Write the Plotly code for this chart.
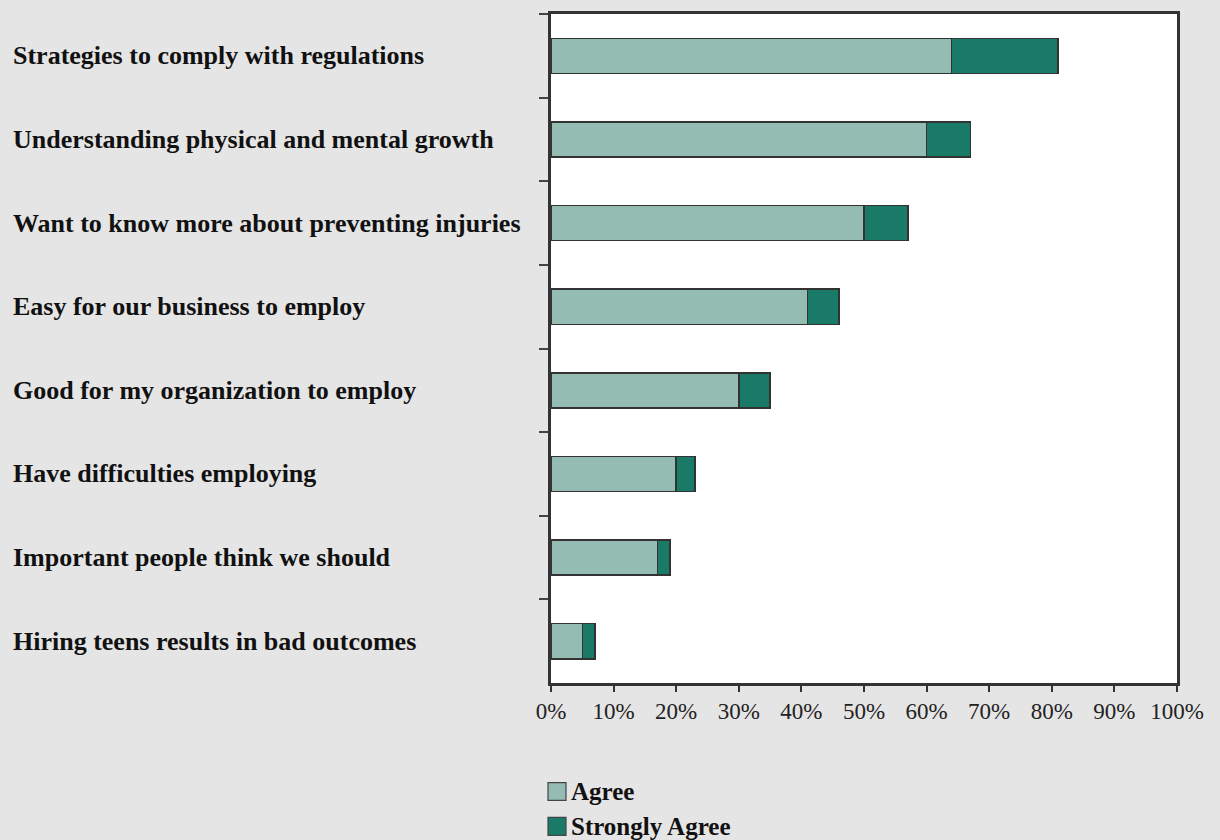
import plotly.graph_objects as go

categories = [
    "Strategies to comply with regulations",
    "Understanding physical and mental growth",
    "Want to know more about preventing injuries",
    "Easy for our business to employ",
    "Good for my organization to employ",
    "Have difficulties employing",
    "Important people think we should",
    "Hiring teens results in bad outcomes",
]
agree = [64, 60, 50, 41, 30, 20, 17, 5]
strongly_agree = [17, 7, 7, 5, 5, 3, 2, 2]
series_names = ["Agree", "Strongly Agree"]
series_colors = ["#95bcb2", "#1a7a68"]
x_ticks = [0, 10, 20, 30, 40, 50, 60, 70, 80, 90, 100]
x_tick_labels = [f"{t}%" for t in x_ticks]

FONT = "Liberation Serif, Times New Roman, serif"
W, H = 1220, 840
ML, MR, MT, MB = 551, 43, 11, 157
PW, PH = W - ML - MR, H - MT - MB

fig = go.Figure()
for vals, name, col in zip([agree, strongly_agree], series_names, series_colors):
    fig.add_trace(go.Bar(
        y=categories, x=vals, orientation="h", name=name,
        marker=dict(color=col, line=dict(color="#333333", width=1.5)),
        showlegend=False,
    ))

for cat in categories:
    fig.add_annotation(
        x=(11 - ML) / PW, xref="paper", xanchor="left",
        y=cat, yref="y", yanchor="middle",
        text=f"<b>{cat}</b>", showarrow=False,
        font=dict(family=FONT, size=26, color="#111111"),
        align="left",
    )

# manual legend (below the plot)
legend_rows = [792, 827]
for name, col, py in zip(series_names, series_colors, legend_rows):
    fig.add_shape(
        type="rect", xref="paper", yref="paper",
        x0=(548 - ML) / PW, x1=(566 - ML) / PW,
        y0=(MT + PH - (py - 9)) / PH, y1=(MT + PH - (py + 9)) / PH,
        fillcolor=col, line=dict(color="#444444", width=1.2),
    )
    fig.add_annotation(
        x=(569 - ML) / PW, xref="paper", xanchor="left",
        y=(MT + PH - py) / PH, yref="paper", yanchor="middle",
        text=f"<b>{name}</b>", showarrow=False,
        font=dict(family=FONT, size=25, color="#111111"),
    )

fig.update_layout(
    barmode="stack",
    bargap=0.58,
    width=W, height=H,
    margin=dict(l=ML, r=MR, t=MT, b=MB),
    paper_bgcolor="#e5e5e5",
    plot_bgcolor="#ffffff",
    font=dict(family=FONT, size=23, color="#222222"),
    xaxis=dict(
        range=[0, 100], tickvals=x_ticks, ticktext=x_tick_labels,
        showgrid=False, zeroline=False,
        showline=True, linecolor="#333333", linewidth=2.5, mirror=True,
        ticks="outside", ticklen=6, tickwidth=1.5, tickcolor="#333333",
        tickfont=dict(family=FONT, size=23, color="#222222"),
    ),
    yaxis=dict(
        categoryorder="array", categoryarray=categories,
        autorange="reversed",
        showticklabels=False, showgrid=False, zeroline=False,
        showline=True, linecolor="#333333", linewidth=2.5, mirror=True,
        ticks="outside", ticklen=9, tickwidth=1.5, tickcolor="#444444",
        tickson="boundaries",
    ),
    showlegend=False,
)

fig.write_html(
    "out.html",
    config={"displayModeBar": False},
    post_script="document.body.style.margin='0';document.body.style.background='#e5e5e5';",
)
